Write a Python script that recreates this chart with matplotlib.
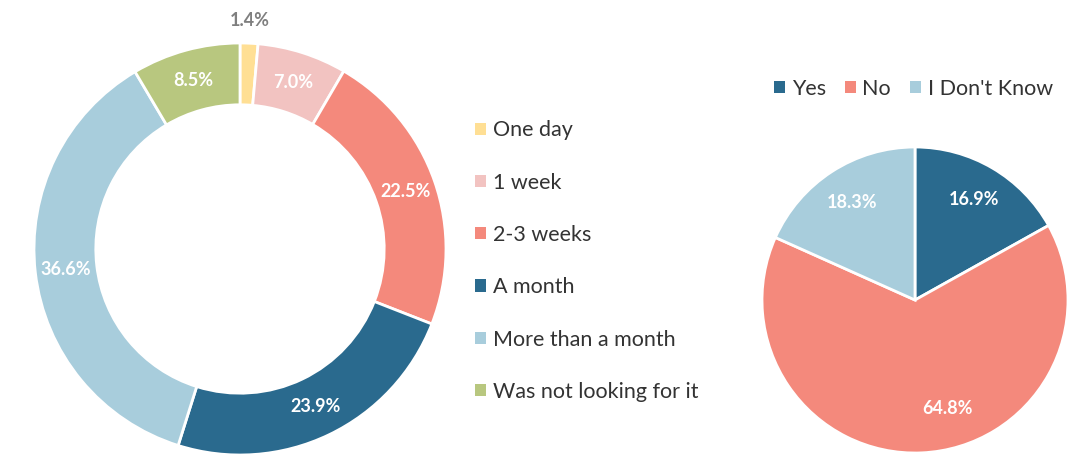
import numpy as np
import matplotlib.pyplot as plt
from matplotlib.patches import Patch

plt.rcParams['font.family'] = ['Lato', 'DejaVu Sans']

# Time taken to find it
wait_labels = ["One day", "1 week", "2-3 weeks", "A month",
               "More than a month", "Was not looking for it"]
wait_share = [1.4, 7.0, 22.5, 23.9, 36.6, 8.5]
wait_colors = ["#FFDF94", "#F2C3C1", "#F4897C", "#2A6A8E", "#A8CDDC", "#B8C77F"]

# Yes / No / Don't know
answer_labels = ["Yes", "No", "I Don't Know"]
answer_share = [16.9, 64.8, 18.3]
answer_colors = ["#2A6A8E", "#F4897C", "#A8CDDC"]

W, H = 1088, 454
fig = plt.figure(figsize=(W / 100, H / 100), dpi=100)

# Donut chart (left)
ax1 = fig.add_axes([34 / W, (H - 455) / H, 412 / W, 412 / H])
wedges, texts, autotexts = ax1.pie(
    wait_share, colors=wait_colors, startangle=90, counterclock=False,
    radius=1.0, autopct="%.1f%%", pctdistance=0.85,
    wedgeprops=dict(width=0.3, edgecolor="white", linewidth=2),
    textprops=dict(color="white", fontsize=13, fontweight="bold"))
for v, w, t in zip(wait_share, wedges, autotexts):
    if v < 2:
        # small slice: label outside the ring
        ang = np.deg2rad((w.theta1 + w.theta2) / 2)
        t.set_position((1.11 * np.cos(ang), 1.11 * np.sin(ang)))
        t.set_color("#7F7F7F")
ax1.set_xlim(-1, 1)
ax1.set_ylim(-1, 1)
ax1.set_aspect("equal")

handles1 = [Patch(facecolor=c, edgecolor="none") for c in wait_colors]
fig.legend(handles1, wait_labels, loc="upper left",
           bbox_to_anchor=(456 / W, 1 - 101 / H), frameon=False,
           fontsize=15.5, labelcolor="#333333", handlelength=0.5,
           handleheight=0.5, handletextpad=0.3, labelspacing=1.5)

# Pie chart (right)
ax2 = fig.add_axes([762 / W, (H - 453) / H, 306 / W, 306 / H])
_, _, pie_texts = ax2.pie(
    answer_share, colors=answer_colors, startangle=90, counterclock=False,
    radius=1.0, autopct="%.1f%%", pctdistance=0.76,
    wedgeprops=dict(edgecolor="white", linewidth=2),
    textprops=dict(color="white", fontsize=13, fontweight="bold"))
x, y = pie_texts[1].get_position()
pie_texts[1].set_position((x + 0.18, y + 0.05))
ax2.set_xlim(-1, 1)
ax2.set_ylim(-1, 1)
ax2.set_aspect("equal")

handles2 = [Patch(facecolor=c, edgecolor="none") for c in answer_colors]
fig.legend(handles2, answer_labels, loc="center left",
           bbox_to_anchor=(755 / W, 1 - 89 / H), frameon=False, ncol=3,
           fontsize=15.5, labelcolor="#333333", handlelength=0.5,
           handleheight=0.5, handletextpad=0.3, columnspacing=0.9)

fig.savefig("out.png", dpi=100)
